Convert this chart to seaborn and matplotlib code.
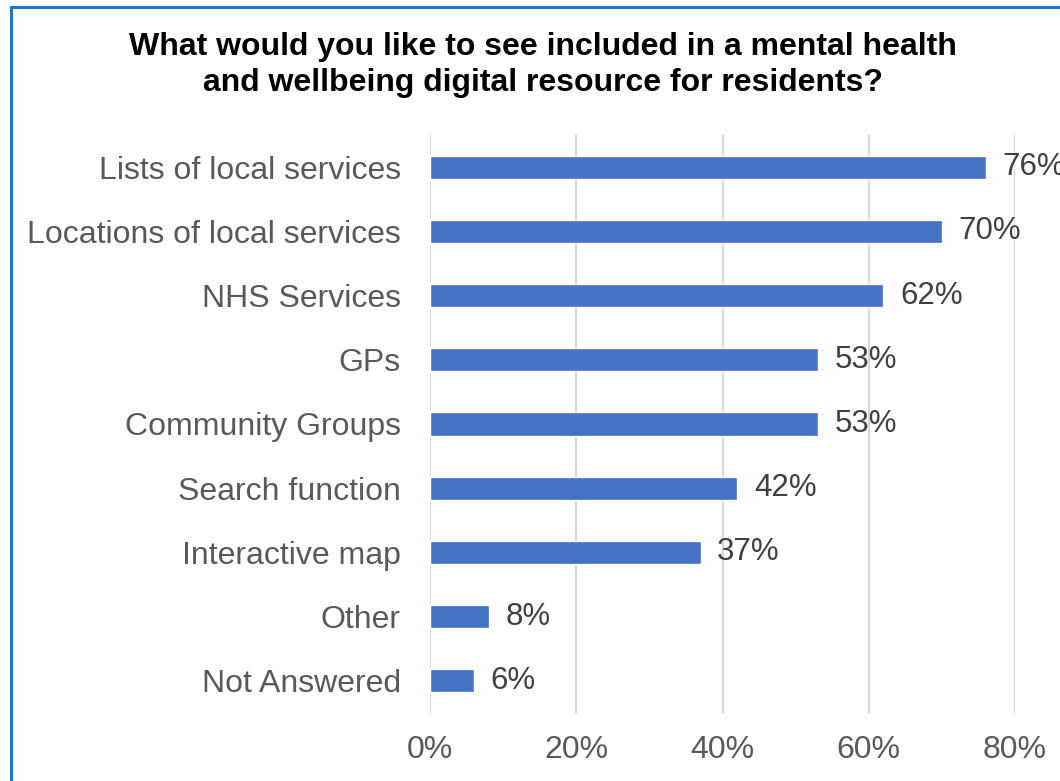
import matplotlib
matplotlib.use("Agg")
import matplotlib.pyplot as plt
from matplotlib.patches import Rectangle
import seaborn as sns
import pandas as pd

categories = [
    "Lists of local services",
    "Locations of local services",
    "NHS Services",
    "GPs",
    "Community Groups",
    "Search function",
    "Interactive map",
    "Other",
    "Not Answered",
]
values = [76, 70, 62, 53, 53, 42, 37, 8, 6]
x_ticks = [0, 20, 40, 60, 80]
title = "What would you like to see included in a mental health\nand wellbeing digital resource for residents?"

df = pd.DataFrame({"option": categories, "pct": values})

sns.set_theme(style="white")
plt.rcParams["font.family"] = ["Liberation Sans", "DejaVu Sans"]

W, H = 1060, 781
fig = plt.figure(figsize=(W / 100, H / 100), dpi=100)
fig.patch.set_facecolor("white")

# plot area in pixel coordinates
left, right, top, bottom = 430, 1015, 135, 713
ax = fig.add_axes([left / W, 1 - bottom / H, (right - left) / W, (bottom - top) / H])

sns.barplot(data=df, x="pct", y="option", orient="h", color="#4472C4",
            saturation=1, width=0.36, ax=ax)

ax.set_xlim(0, 80)
ax.set_ylim(len(categories) - 0.5, -0.5)
ax.set_xticks(x_ticks)
ax.set_xticklabels([f"{t}%" for t in x_ticks])
ax.grid(axis="x", color="#D9D9D9", linewidth=1.5)
ax.set_axisbelow(True)
for s in ax.spines.values():
    s.set_visible(False)
ax.set_xlabel("")
ax.set_ylabel("")
ax.tick_params(axis="y", length=0, pad=21, labelsize=23, labelcolor="#595959")
ax.tick_params(axis="x", length=0, pad=16, labelsize=23, labelcolor="#595959")

labels = ax.bar_label(ax.containers[0], fmt="%g%%", padding=12,
                      fontsize=22.5, color="#404040")
for t in labels:
    t.set_clip_on(False)

fig.text(543 / W, 1 - 65 / H, title, ha="center", va="center",
         fontsize=23, fontweight="bold", color="black", linespacing=1.26)

# frame around the chart
fig.patches.append(Rectangle((11 / W, -0.05), 1.2, 1 - 7 / H + 0.05,
                             transform=fig.transFigure, fill=False,
                             edgecolor="#1878CF", linewidth=2.2))

fig.savefig("out.png", dpi=100)
